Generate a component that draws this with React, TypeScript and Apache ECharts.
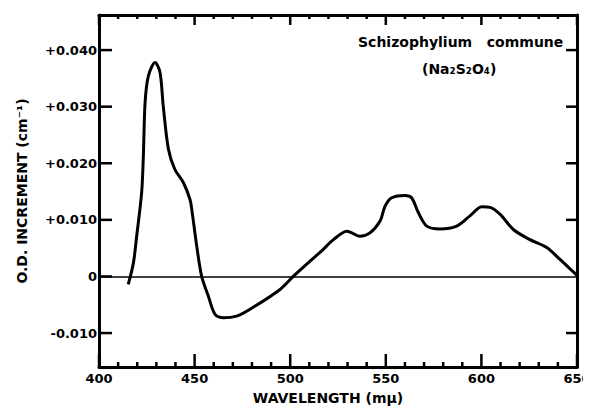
import React, { useEffect, useRef } from "react";
import * as echarts from "echarts";

const wavelengths = [
  415.3, 418, 419.7, 422.3, 423.2, 424.1, 425.8, 429.3, 431.9, 433.6, 436.3, 439.7,
  444.1, 447.6, 448.5, 451.1, 453.7, 457.2, 460.7, 465, 472, 479, 494.7, 501.6,
  517.3, 522.6, 529.6, 532.2, 536.5, 541.7, 547, 549.6, 553.1, 560, 563.5, 567,
  571.4, 578.3, 587.1, 594, 600.2, 604.5, 609.7, 616.7, 625.4, 634.2, 641.1, 648.1, 650,
];
const increments = [
  -0.0014, 0.0024, 0.0071, 0.0148, 0.0213, 0.0307, 0.0354, 0.0378, 0.0361, 0.0301, 0.0225, 0.0189,
  0.0166, 0.0136, 0.0119, 0.0054, 0.0, -0.0035, -0.0067, -0.0073, -0.007, -0.0058, -0.0023, 0.0,
  0.0048, 0.0065, 0.008, 0.0077, 0.0071, 0.0077, 0.0098, 0.0124, 0.0139, 0.0143, 0.0139, 0.0113,
  0.0089, 0.0084, 0.0089, 0.0107, 0.0123, 0.0122, 0.011, 0.0083, 0.0065, 0.0051, 0.003, 0.0008, 0.0002,
];
const xMajorTicks = [400, 450, 500, 550, 600, 650];
const xMinorTicks = [
  410, 420, 430, 440, 460, 470, 480, 490, 510, 520, 530, 540,
  560, 570, 580, 590, 610, 620, 630, 640,
];
const yTickValues = [-0.01, 0, 0.01, 0.02, 0.03, 0.04];
const yTickLabels = ["-0.010", "0", "+0.010", "+0.020", "+0.030", "+0.040"];
const rightTickValues = [-0.01, 0.01, 0.02, 0.03, 0.04];

const X_MIN = 400;
const X_MAX = 650;
const Y_MIN = -0.016;
const Y_MAX = 0.0462;
const FONT = "DejaVu Sans";

const mkLine = () => ({ show: true, onZero: false, lineStyle: { color: "#000", width: 3 } });
const tickStyle = () => ({ stroke: "#000", lineWidth: 2.5 });

export default function App() {
  const ref = useRef<HTMLDivElement>(null);
  useEffect(() => {
    if (!ref.current) return;
    const chart = echarts.init(ref.current, undefined, { renderer: "svg" });

    const xTickData = [
      ...xMajorTicks.map((v) => [v, Y_MIN, 1]),
      ...xMinorTicks.map((v) => [v, Y_MIN, 0]),
    ];
    const yTickData = yTickValues.map((v) => [X_MIN, v, rightTickValues.includes(v) ? 1 : 0]);

    chart.setOption({
      animation: false,
      grid: {
        left: 99,
        right: 14,
        top: 15,
        bottom: 47,
        containLabel: false,
        outerBoundsMode: "none",
      },
      xAxis: [
        {
          type: "value",
          min: X_MIN,
          max: X_MAX,
          interval: 50,
          position: "bottom",
          axisLine: mkLine(),
          axisTick: { show: false },
          minorTick: { show: false },
          axisLabel: {
            color: "#000",
            fontFamily: FONT,
            fontWeight: "bold",
            fontSize: 13,
            margin: 5,
            showMaxLabel: true,
            showMinLabel: true,
            hideOverlap: false,
          },
          splitLine: { show: false },
          name: "WAVELENGTH (mμ)",
          nameLocation: "middle",
          nameGap: 24,
          nameTextStyle: { color: "#000", fontFamily: FONT, fontWeight: "bold", fontSize: 14, padding: [0, 20, 0, 0] },
        },
        {
          type: "value",
          min: X_MIN,
          max: X_MAX,
          interval: 50,
          position: "top",
          axisLine: mkLine(),
          axisTick: { show: false },
          minorTick: { show: false },
          axisLabel: { show: false },
          splitLine: { show: false },
        },
      ],
      yAxis: [
        {
          type: "value",
          min: Y_MIN,
          max: Y_MAX,
          position: "left",
          axisLine: mkLine(),
          axisTick: { show: false },
          axisLabel: {
            customValues: yTickValues,
            color: "#000",
            fontFamily: FONT,
            fontWeight: "bold",
            fontSize: 13,
            margin: 2,
            formatter: (v: number) => {
              const i = yTickValues.findIndex((t) => Math.abs(t - v) < 1e-9);
              return i >= 0 ? yTickLabels[i] : "";
            },
          },
          splitLine: { show: false },
          name: "O.D. INCREMENT (cm⁻¹)",
          nameLocation: "middle",
          nameGap: 70,
          nameRotate: 90,
          nameTextStyle: { color: "#000", fontFamily: FONT, fontWeight: "bold", fontSize: 14 },
        },
        {
          type: "value",
          min: Y_MIN,
          max: Y_MAX,
          position: "right",
          axisLine: mkLine(),
          axisTick: { show: false },
          axisLabel: { show: false },
          splitLine: { show: false },
        },
      ],
      graphic: [
        {
          type: "text",
          left: 358,
          top: 35,
          style: { text: "Schizophylium   commune", fill: "#000", font: `bold 14px "${FONT}"` },
        },
        {
          type: "text",
          left: 422,
          top: 62,
          style: { text: "(Na₂S₂O₄)", fill: "#000", font: `bold 14px "${FONT}"` },
        },
      ],
      series: [
        {
          type: "line",
          xAxisIndex: 0,
          yAxisIndex: 0,
          data: wavelengths.map((w, i) => [w, increments[i]]),
          smooth: 0.3,
          showSymbol: false,
          clip: false,
          lineStyle: { color: "#000", width: 3 },
          markLine: {
            silent: true,
            symbol: "none",
            label: { show: false },
            lineStyle: { color: "#000", width: 1.5, type: "solid" },
            data: [{ yAxis: 0 }],
          },
        },
        {
          type: "custom",
          xAxisIndex: 0,
          yAxisIndex: 0,
          silent: true,
          clip: false,
          data: xTickData,
          renderItem: (_params: any, api: any) => {
            const x = api.value(0);
            const major = api.value(2) === 1;
            const b = api.coord([x, Y_MIN]);
            const t = api.coord([x, Y_MAX]);
            const lb = major ? 13 : 5;
            const lt = major ? 10 : 4;
            return {
              type: "group",
              children: [
                { type: "line", shape: { x1: b[0], y1: b[1], x2: b[0], y2: b[1] - lb }, style: tickStyle() },
                { type: "line", shape: { x1: t[0], y1: t[1], x2: t[0], y2: t[1] + lt }, style: tickStyle() },
              ],
            };
          },
        },
        {
          type: "custom",
          xAxisIndex: 0,
          yAxisIndex: 0,
          silent: true,
          clip: false,
          data: yTickData,
          renderItem: (_params: any, api: any) => {
            const y = api.value(1);
            const hasRight = api.value(2) === 1;
            const l = api.coord([X_MIN, y]);
            const r = api.coord([X_MAX, y]);
            const children: any[] = [
              { type: "line", shape: { x1: l[0], y1: l[1], x2: l[0] + 13, y2: l[1] }, style: tickStyle() },
            ];
            if (hasRight) {
              children.push({ type: "line", shape: { x1: r[0], y1: r[1], x2: r[0] - 11, y2: r[1] }, style: tickStyle() });
            }
            return { type: "group", children };
          },
        },
      ],
    });
    return () => chart.dispose();
  }, []);
  return <div ref={ref} style={{ width: 591, height: 414, margin: -8, background: "#fff" }} />;
}
